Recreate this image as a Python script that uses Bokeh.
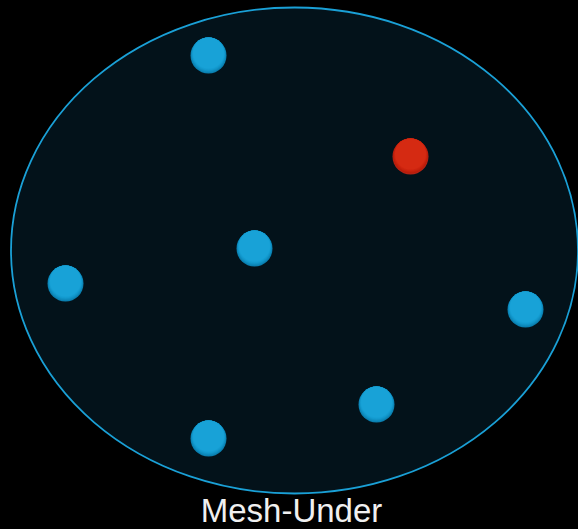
from bokeh.plotting import figure
from bokeh.models import Range1d
from bokeh.core.properties import value
from bokeh.embed import file_html
from bokeh.resources import INLINE

W, H = 578, 529

# node positions (canvas units, y up)
node_x = [208, 254, 65, 525, 376, 208]
node_y = [474, 281, 246, 220, 125, 91]
root_x = [410]
root_y = [373]
label = ["Mesh-Under"]

p = figure(width=W, height=H, output_backend="svg", toolbar_location=None,
           x_range=Range1d(0, W), y_range=Range1d(0, H), min_border=0)
p.axis.visible = False
p.grid.visible = False
p.outline_line_color = None
p.background_fill_color = "black"
p.border_fill_color = "black"

p.ellipse(x=[294], y=[279], width=[567], height=[486],
          fill_color="#03121a", line_color="#1aa0d6", line_width=1.8)

# shaded nodes: stacked circles, tops aligned, lighter towards the top
blue_layers = [(36, "#0a7eae"), (35, "#0d87b9"), (34, "#1090c3"),
               (33, "#1398cc"), (32, "#169ed3"), (31, "#18a2d7")]
red_layers = [(36, "#b52416"), (35, "#b81c0b"), (34, "#c0200c"),
              (33, "#c8230e"), (32, "#cf2610"), (31, "#d52a12")]

for s, c in blue_layers:
    off = (36 - s) / 2
    p.scatter(node_x, [y + off for y in node_y], size=s, fill_color=c, line_color=None)
for s, c in red_layers:
    off = (36 - s) / 2
    p.scatter(root_x, [y + off for y in root_y], size=s, fill_color=c, line_color=None)

p.text(x=[291], y=[0.5], text=label, text_align="center", text_baseline="bottom",
       text_font=value("Liberation Sans"), text_font_size="33px", text_color="#f0f0f0")

tmpl = """{% block preamble %}<style>html, body { margin: 0 !important; padding: 0; background: #000; }</style>{% endblock %}
"""

open("out.html", "w").write(file_html(p, INLINE, template=tmpl))
